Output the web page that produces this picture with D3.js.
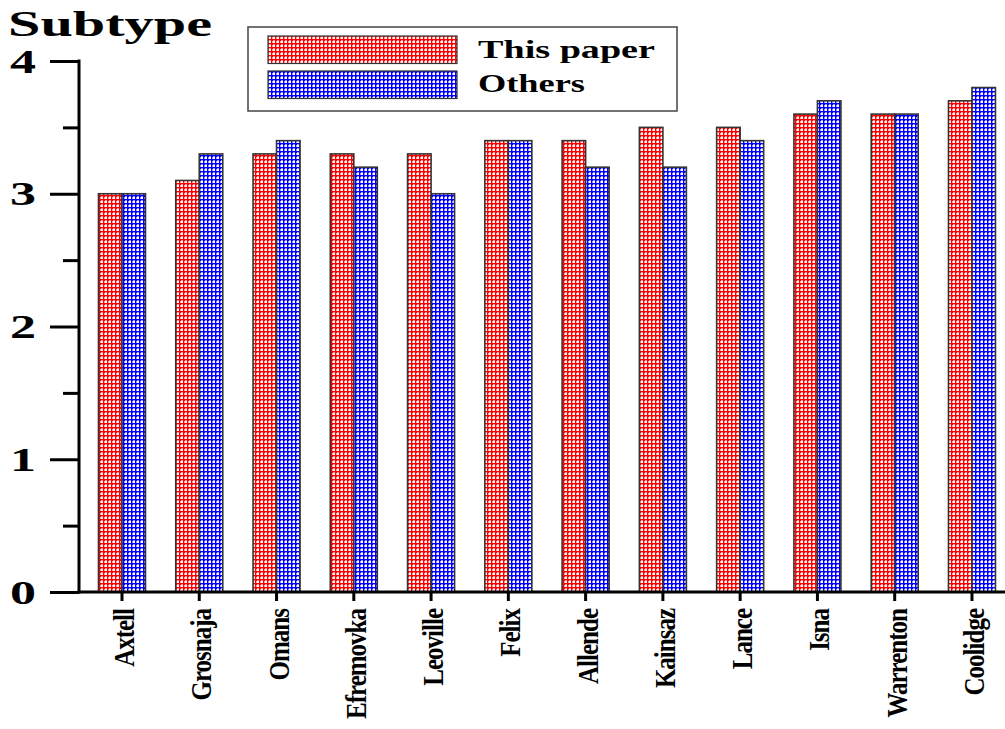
<!DOCTYPE html>
<html><head><meta charset="utf-8">
<script src="https://cdn.jsdelivr.net/npm/d3@7"></script>
<style>html,body{margin:0;padding:0;background:#fff;}svg{display:block;}</style>
</head><body>
<svg id="chart" width="1005" height="729"></svg>
<script>
const categories = ["Axtell","Grosnaja","Omans","Efremovka","Leoville","Felix","Allende","Kainsaz","Lance","Isna","Warrenton","Coolidge"];
const thisPaper = [3.0,3.1,3.3,3.3,3.3,3.4,3.4,3.5,3.5,3.6,3.6,3.7];
const others    = [3.0,3.3,3.4,3.2,3.0,3.4,3.2,3.2,3.4,3.7,3.6,3.8];
const seriesNames = ["This paper","Others"];
const yTicks = [0,1,2,3,4];
const yMinor = [0.5,1.5,2.5,3.5];
const colors = ["#ff0000","#0000ff"];
const tints = ["#ff9a9a","#9a9aff"];

const svg = d3.select("#chart");
const FONT = "'Liberation Serif','Times New Roman',Times,serif";

// patterns: small checker (colour grid with white cells)
const defs = svg.append("defs");
colors.forEach((c,i)=>{
  const p = defs.append("pattern").attr("id","hatch"+i)
    .attr("patternUnits","userSpaceOnUse").attr("width",4).attr("height",4);
  p.append("rect").attr("width",4).attr("height",4).attr("fill",c);
  p.append("rect").attr("x",1).attr("y",1).attr("width",2).attr("height",2).attr("fill","#fff");
  p.append("rect").attr("x",0).attr("y",1).attr("width",1).attr("height",2).attr("fill",tints[i]);
  p.append("rect").attr("x",1).attr("y",0).attr("width",2).attr("height",1).attr("fill",tints[i]);
});

const x = d3.scaleBand().domain(categories).range([83.36, 1010.6]).padding(0);
const x1 = d3.scaleBand().domain(seriesNames).range([x.bandwidth()/2-23.5, x.bandwidth()/2+23.5]);
const y = d3.scaleLinear().domain([0,4]).range([592,61]);

const data = categories.map((c,i)=>({cat:c, vals:[thisPaper[i], others[i]]}));

// bars
const g = svg.append("g");
data.forEach(d=>{
  d.vals.forEach((v,j)=>{
    g.append("rect")
      .attr("x", x(d.cat)+x1(seriesNames[j]))
      .attr("y", y(v))
      .attr("width", x1.bandwidth())
      .attr("height", y(0)-y(v))
      .attr("fill","url(#hatch"+j+")")
      .attr("stroke","#333").attr("stroke-width",1.6);
  });
});

// y axis
const yAxis = d3.axisLeft(y).tickValues(yTicks).tickSize(29).tickFormat("");
const ya = svg.append("g").attr("transform","translate(79,0)").call(yAxis);
ya.select(".domain").remove();
ya.selectAll(".tick line").attr("stroke","#000").attr("stroke-width",3);
const yAxisMinor = d3.axisLeft(y).tickValues(yMinor).tickSize(16).tickFormat("");
const ym = svg.append("g").attr("transform","translate(79,0)").call(yAxisMinor);
ym.select(".domain").remove();
ym.selectAll(".tick line").attr("stroke","#000").attr("stroke-width",3);
svg.append("line").attr("x1",79).attr("x2",79).attr("y1",y(4)-1.5).attr("y2",y(0)+1.5)
  .attr("stroke","#000").attr("stroke-width",3);
yTicks.forEach(t=>{
  svg.append("text").attr("x",10).attr("y",y(t)+11.5)
    .attr("font-family",FONT).attr("font-weight","bold").attr("font-size",34)
    .attr("textLength",26).attr("lengthAdjust","spacingAndGlyphs")
    .text(t);
});

// x axis
const xAxis = d3.axisBottom(x).tickSize(9).tickFormat("");
const xa = svg.append("g").attr("transform","translate(0,592)").call(xAxis);
xa.select(".domain").remove();
xa.selectAll(".tick line").attr("stroke","#000").attr("stroke-width",3);
svg.append("line").attr("x1",77.5).attr("x2",1005).attr("y1",592).attr("y2",592)
  .attr("stroke","#000").attr("stroke-width",3);
categories.forEach(c=>{
  const cx = x(c)+x.bandwidth()/2;
  svg.append("text")
    .attr("transform",`translate(${cx+12},609) rotate(-90) scale(1,1.2)`)
    .attr("text-anchor","end")
    .attr("font-family",FONT).attr("font-weight","bold").attr("font-size",25)
    .attr("letter-spacing",-1)
    .text(c);
});

// title
svg.append("text").attr("x",8).attr("y",36)
  .attr("font-family",FONT).attr("font-weight","bold").attr("font-size",36)
  .attr("textLength",204).attr("lengthAdjust","spacingAndGlyphs")
  .text("Subtype");

// legend
const lg = svg.append("g");
lg.append("rect").attr("x",248).attr("y",27).attr("width",429).attr("height",84)
  .attr("fill","#fff").attr("stroke","#444").attr("stroke-width",1.5);
const legendText = [{w:177, y:58},{w:107, y:92}];
seriesNames.forEach((s,j)=>{
  lg.append("rect").attr("x",268).attr("y",36+35*j).attr("width",189).attr("height",27.5)
    .attr("fill","url(#hatch"+j+")").attr("stroke","#333").attr("stroke-width",1.2);
  lg.append("text").attr("x",478).attr("y",legendText[j].y)
    .attr("font-family",FONT).attr("font-weight","bold").attr("font-size",25)
    .attr("textLength",legendText[j].w).attr("lengthAdjust","spacingAndGlyphs")
    .text(s);
});
</script>
</body></html>
